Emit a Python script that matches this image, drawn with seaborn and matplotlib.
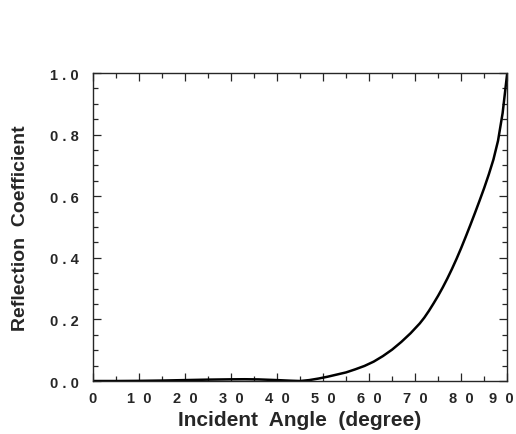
import pandas as pd
import matplotlib
matplotlib.use("Agg")
import matplotlib.pyplot as plt
import matplotlib.ticker as mticker
import seaborn as sns

# values
angle = [0, 5, 10, 15, 20, 25, 30, 33, 36, 40, 43, 45, 47, 49, 51, 53, 55,
         57, 59, 61, 63, 65, 67, 69, 71, 72, 73, 74, 75, 76, 77, 78, 79, 80,
         81, 82, 83, 84, 85, 86, 87, 88, 89, 90]
refl = [0.0, 0.0, 0.0005, 0.0015, 0.003, 0.0045, 0.0055, 0.0058, 0.0052,
        0.003, 0.001, 0.0, 0.003, 0.008, 0.014, 0.021, 0.028, 0.038, 0.049,
        0.063, 0.081, 0.102, 0.127, 0.155, 0.187, 0.206, 0.228, 0.252, 0.277,
        0.304, 0.333, 0.364, 0.397, 0.432, 0.469, 0.507, 0.546, 0.586, 0.627,
        0.671, 0.719, 0.78, 0.87, 1.0]
xticks = [0, 10, 20, 30, 40, 50, 60, 70, 80, 90]
xtick_labels = ["0", "1  0", "2  0", "3  0", "4  0", "5  0", "6  0", "7  0",
                "8  0", "9  0"]
yticks = [0.0, 0.2, 0.4, 0.6, 0.8, 1.0]
ytick_labels = ["0 . 0", "0 . 2", "0 . 4", "0 . 6", "0 . 8", "1 . 0"]

sns.set_style("ticks")
plt.rcParams["font.family"] = ["Liberation Sans", "DejaVu Sans"]

df = pd.DataFrame({"angle": angle, "refl": refl})

fig = plt.figure(figsize=(5.16, 4.35), dpi=100)
ax = fig.add_axes([0.180, 0.1218, 0.803, 0.708])
sns.lineplot(data=df, x="angle", y="refl", color="black", linewidth=1.8, ax=ax)

ax.set_xlim(0, 90)
ax.set_ylim(0, 1.0)
ax.set_xticks(xticks)
# last label sits at the figure edge; drawn separately, nudged inside
ax.set_xticklabels(xtick_labels[:-1] + [""], fontsize=10.5, fontweight="bold")
ax.annotate(xtick_labels[-1], xy=(xticks[-1], 0), xycoords="data",
            xytext=(-4, -7), textcoords="offset points", ha="center", va="top",
            fontsize=10.5, fontweight="bold")
ax.set_yticks(yticks)
ax.set_yticklabels(ytick_labels, fontsize=10.5, fontweight="bold")
ax.xaxis.set_minor_locator(mticker.MultipleLocator(5))
ax.yaxis.set_minor_locator(mticker.MultipleLocator(0.05))
ax.tick_params(which="both", direction="in", top=True, right=True, width=0.9)
ax.tick_params(which="major", length=6)
ax.tick_params(which="minor", length=3.5)
ax.tick_params(axis="x", which="major", pad=7)
ax.tick_params(axis="y", which="major", pad=10)
for s in ax.spines.values():
    s.set_linewidth(1.0)

ax.set_xlabel("Incident  Angle  (degree)", fontsize=15, fontweight="bold", labelpad=3.5)
ax.set_ylabel("Reflection  Coefficient", fontsize=14, fontweight="bold", labelpad=15)

fig.savefig("out.png", dpi=100)
